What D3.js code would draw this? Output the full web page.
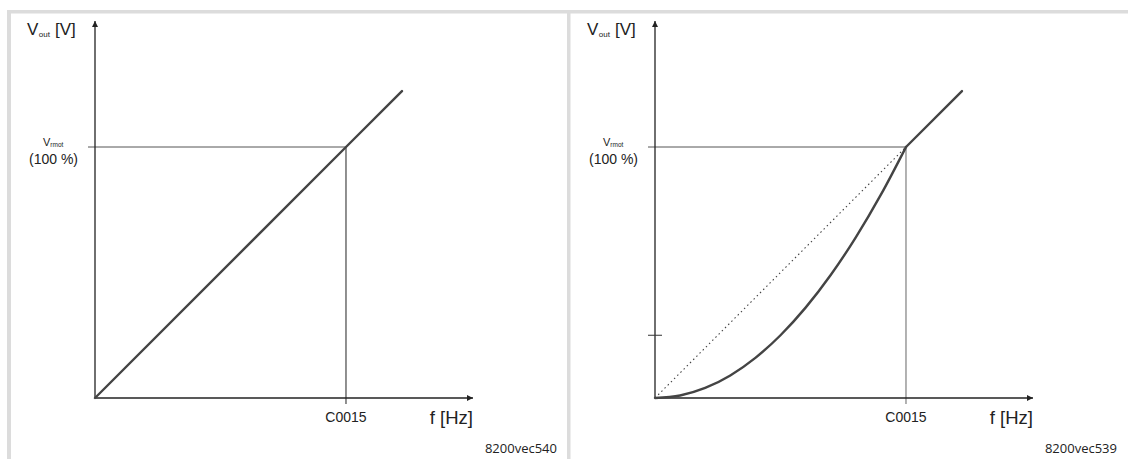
<!DOCTYPE html>
<html><head><meta charset="utf-8">
<script src="https://cdn.jsdelivr.net/npm/d3@7"></script>
<style>html,body{margin:0;padding:0;background:#fff;}svg{display:block;}</style>
</head><body>
<svg id="c" width="1128" height="459"></svg>
<script>
// ---- data ----
const panelIds = ["8200vec540", "8200vec539"];
const xTickLabels = ["C0015"];
const yTickLabels = ["(100 %)"];
// left: linear V/f characteristic (f relative to C0015, V relative to Vrmot)
const linearF = [0, 1, 1.223];
const linearV = [0, 1, 1.223];
// right: quadratic characteristic, then linear above C0015
const quadF = [0, 0.1, 0.2, 0.3, 0.4, 0.5, 0.6, 0.7, 0.8, 0.9, 1.0];
const quadV = [0, 0.01, 0.04, 0.09, 0.16, 0.25, 0.36, 0.49, 0.64, 0.81, 1.0];
const quadTailF = [1.0, 1.223];
const quadTailV = [1.0, 1.223];
// dotted reference line (right panel)
const refF = [0, 1];
const refV = [0, 1];
const extraYTick = [0.25];

const svg = d3.select("#c");
// frame
svg.append("rect").attr("x", 7).attr("y", 10).attr("width", 1121).attr("height", 3.5).attr("fill", "#dcdcdc");
svg.append("rect").attr("x", 7).attr("y", 10).attr("width", 4).attr("height", 449).attr("fill", "#dcdcdc");
svg.append("rect").attr("x", 567).attr("y", 10).attr("width", 3.5).attr("height", 449).attr("fill", "#dcdcdc");

const defs = svg.append("defs");
defs.append("marker").attr("id", "arr").attr("viewBox", "0 0 10 10").attr("refX", 10).attr("refY", 5)
  .attr("markerWidth", 7).attr("markerHeight", 6).attr("markerUnits", "userSpaceOnUse").attr("orient", "auto")
  .append("path").attr("d", "M0,0 L10,5 L0,10 Z").attr("fill", "#222");

function panel(ox, segments, opts) {
  const g = svg.append("g").attr("transform", `translate(${ox},0)`);
  const x = d3.scaleLinear().domain([0, 1.506]).range([95, 473]);
  const y = d3.scaleLinear().domain([0, 1.502]).range([398, 21]);

  // reference lines to (1,1)
  g.append("line").attr("x1", x(0) - 7).attr("x2", x(1)).attr("y1", y(1)).attr("y2", y(1))
    .attr("stroke", "#555").attr("stroke-width", 1);
  g.append("line").attr("x1", x(1)).attr("x2", x(1)).attr("y1", y(1)).attr("y2", y(0) + 6)
    .attr("stroke", opts.vcol).attr("stroke-width", 1);

  // axes
  g.append("line").attr("x1", x(0)).attr("x2", x(1.506)).attr("y1", y(0)).attr("y2", y(0))
    .attr("stroke", "#222").attr("stroke-width", 1.3).attr("marker-end", "url(#arr)");
  g.append("line").attr("x1", x(0)).attr("x2", x(0)).attr("y1", y(0)).attr("y2", y(1.502))
    .attr("stroke", "#222").attr("stroke-width", 1.3).attr("marker-end", "url(#arr)");

  if (opts.extraTick) {
    opts.extraTick.forEach(v => g.append("line").attr("x1", x(0) - 7).attr("x2", x(0) + 7)
      .attr("y1", y(v)).attr("y2", y(v)).attr("stroke", "#333").attr("stroke-width", 1));
  }
  if (opts.ref) {
    g.append("path").datum(d3.zip(refF, refV))
      .attr("d", d3.line().x(d => x(d[0])).y(d => y(d[1])))
      .attr("fill", "none").attr("stroke", "#444").attr("stroke-width", 1.1).attr("stroke-dasharray", "1.5,3");
  }

  segments.forEach(s => {
    g.append("path").datum(d3.zip(s.f, s.v))
      .attr("d", d3.line().x(d => x(d[0])).y(d => y(d[1])).curve(s.curve))
      .attr("fill", "none").attr("stroke", "#444").attr("stroke-width", 2.4).attr("stroke-linecap", "round");
  });

  const font = "'Liberation Sans', Arial, sans-serif";
  // y axis title
  const t = g.append("text").attr("x", 27).attr("y", 35).attr("font-family", font).attr("fill", "#222");
  t.append("tspan").attr("font-size", 17).text("V");
  t.append("tspan").attr("font-size", 8).attr("dx", 0.5).attr("dy", 2).text("out");
  t.append("tspan").attr("font-size", 17).attr("dx", 5).attr("dy", -2).text("[V]");

  // Vrmot label
  const t2 = g.append("text").attr("x", 43).attr("y", 146).attr("font-family", font).attr("fill", "#222");
  t2.append("tspan").attr("font-size", 11).text("V");
  t2.append("tspan").attr("font-size", 6.5).attr("dy", 1).text("rmot");
  g.append("text").attr("x", 78).attr("y", 164).attr("text-anchor", "end").attr("font-family", font)
    .attr("font-size", 14).attr("fill", "#222").text(yTickLabels[0]);

  // x labels
  g.append("text").attr("x", x(1)).attr("y", 422).attr("text-anchor", "middle").attr("font-family", font)
    .attr("font-size", 14).attr("fill", "#222").text(xTickLabels[0]);
  g.append("text").attr("x", 473).attr("y", 424).attr("text-anchor", "end").attr("font-family", font)
    .attr("font-size", 18.5).attr("fill", "#222").text("f [Hz]");

  g.append("text").attr("x", 557).attr("y", 453).attr("text-anchor", "end")
    .attr("font-family", "'Open Sans', 'DejaVu Sans', sans-serif").attr("font-size", 13).attr("fill", "#222")
    .text(opts.id);
}

panel(0, [{ f: linearF, v: linearV, curve: d3.curveLinear }], { vcol: "#222", id: panelIds[0] });
panel(560, [{ f: quadF, v: quadV, curve: d3.curveMonotoneX }, { f: quadTailF, v: quadTailV, curve: d3.curveLinear }],
  { vcol: "#666", id: panelIds[1], ref: true, extraTick: extraYTick });
</script>
</body></html>
